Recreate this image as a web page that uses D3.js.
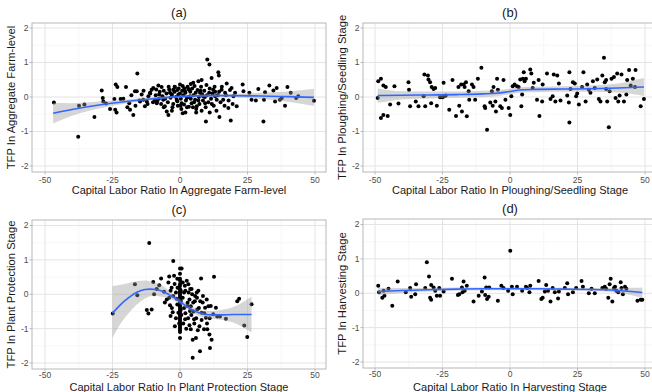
<!DOCTYPE html>
<html>
<head>
<meta charset="utf-8">
<script src="https://cdn.jsdelivr.net/npm/d3@7"></script>
<style>
  body { margin: 0; background: #fff; }
  svg { font-family: "Liberation Sans", Arial, sans-serif; }
</style>
</head>
<body>
<svg width="652" height="392"></svg>
<script>
// tick values shared by all four panels
const xTicks = [-50, -25, 0, 25, 50];
const xMinor = [-37.5, -12.5, 12.5, 37.5];
const yTicks = [-2, -1, 0, 1, 2];
const yMinor = [-1.5, -0.5, 0.5, 1.5];

// (a) aggregate farm-level points [ratio, tfp]
const ptsA = [
  [-46.7,-0.16],[-37.7,-1.15],[-37.4,-0.25],[-35.4,-0.22],[-31.7,-0.58],[-29,0.19],[-28.6,-0.03],[-28.4,-0.13],
  [-27.4,-0.19],[-24.3,-0.06],[-23.8,0.36],[-23.2,0.29],[-24,-0.37],[-23.5,-0.45],[-25.9,-0.35],[-22,-0.06],
  [-20,0.29],[-18.8,-0.18],[-18.5,-0.37],[-17.3,-0.52],[-16.7,0.17],[-16,0.17],[-15.8,0.68],[-14.8,-0.13],
  [-14.2,0.07],[-13.6,-0.08],[-13,-0.27],[-12.3,-0.13],[-11.7,0.02],[-11.1,0.12],[-10.5,0.21],[-9.9,0.26],
  [-9.3,-0.08],[-8.6,-0.18],[-8,0.33],[-7.7,0.07],[-6.8,0.29],[-6.2,-0.08],[-5.6,-0.27],[-4.9,-0.42],
  [-4.3,-0.52],[-3.7,0.12],[-3.1,0.02],[-2.5,0.21],[-1.9,0.29],[-1.2,-0.08],[-0.6,0.07],[0,0.36],
  [0.6,-0.18],[1,-0.47],[1.9,0.17],[2.5,-0.03],[3.1,0.23],[3.7,0.02],[4.3,-0.18],[4.9,0.41],
  [5.6,-0.08],[6.2,-0.27],[6.8,0.46],[7.4,0.12],[8,0.49],[8.6,0.02],[9.3,-0.18],[9.6,-0.71],
  [10.1,1.09],[10.9,0.94],[11.7,0.55],[12.3,0.21],[13,0.02],[13.6,-0.08],[14.2,0.72],[14.4,0.62],
  [14.6,-0.58],[15.4,0.21],[16,-0.08],[16.7,0.12],[17.3,0.39],[17.9,-0.32],[18.8,-0.68],[19.1,0.26],
  [19.8,0.02],[20.4,0.12],[21,-0.27],[23.2,0.36],[23.5,0.17],[25.7,0.12],[26.5,-0.08],[28.1,-0.1],
  [29,0.23],[30.9,-0.71],[31.1,-0.08],[31.5,0.14],[33.1,0.33],[34.6,0.19],[35.2,-0.13],[35.8,0.26],
  [37,-0.08],[37.7,-0.03],[38.9,-0.25],[39.8,0.29],[41,0.12],[43,-0.03],[43.8,0.02],[49.6,-0.11],
  [-9,0.05],[-8.5,-0.12],[-7.5,0.15],[-7,-0.2],[-6.5,0.02],[-6,0.18],[-5.5,-0.05],[-5,0.1],
  [-4.5,-0.15],[-4,0.22],[-3.5,-0.02],[-3,0.08],[-2.5,-0.2],[-2,0.15],[-1.5,0],[-1,-0.12],
  [-0.5,0.25],[0,0.1],[0.3,-0.05],[0.8,0.18],[1.2,0.05],[1.5,-0.22],[2,0.12],[2.2,-0.1],
  [2.8,0.3],[3,0],[3.3,-0.28],[3.8,0.15],[4,-0.05],[4.5,0.25],[5,0.05],[5.2,-0.15],
  [5.8,0.12],[6,-0.35],[6.5,0.2],[7,0],[7.2,-0.2],[7.8,0.3],[8.2,0.08],[8.5,-0.1],
  [9,0.18],[9.5,-0.3],[10,0.05],[10.5,-0.15],[11,0.25],[11.5,-0.05],[12,0.1],[12.5,-0.25],
  [13,0.15],[13.5,-0.4],[14,0.05],[15,-0.15],[15.5,0.3],[16.5,-0.25],[17,0.05],[18,-0.1],
  [18.5,0.2],[19.5,-0.2],[-12,-0.2],[-11,0.1],[-10,-0.15],[-13.5,0.18],[-15,-0.1],[-16.5,-0.25],
  [-18,0.05],[-19.5,-0.3],[-21,-0.05],[-2,0.3],[1,0.32],[4,0.38],[6,-0.45],[8,-0.4],
  [11,-0.45],[0.5,-0.35],[-1,0.2],[3.5,0.2],[9.8,0.35],[12.8,0.3],[-6,-0.3],[-3,-0.4],[2,-0.45],
  [-0.8,-0.25],[1.6,0.25],[2.6,-0.3],[4.8,-0.3],[6.8,-0.1],[7.6,0.18],[9.2,0.0],[10.8,0.12],
  [-2.8,-0.3],[-4.2,0.3],[-7.8,-0.05],[-8.8,0.22],[0.2,-0.25],[5.4,0.32],[11.8,-0.2],[14.5,0.15]
];
const fitA_x  = [-47, -40, -30, -20, -10, 0, 10, 20, 30, 40, 49.6];
const fitA_y  = [-0.47, -0.36, -0.23, -0.13, -0.05, 0.01, 0.04, 0.04, 0.03, 0.01, -0.01];
const fitA_lo = [-0.77, -0.54, -0.33, -0.19, -0.09, -0.02, 0.0, -0.01, -0.06, -0.14, -0.26];
const fitA_hi = [-0.17, -0.18, -0.13, -0.07, -0.01, 0.04, 0.08, 0.09, 0.12, 0.16, 0.24];

// (b) ploughing / seedling stage
const ptsB = [
  [-49,-0.03],[-48.8,0.46],[-47.8,0.53],[-47.8,-0.61],[-46.9,-0.52],[-46.9,0.33],[-46,0.29],[-45.3,-0.55],
  [-44.4,-0.22],[-42.8,0.31],[-41.3,-0.19],[-37.6,0.43],[-37.4,0.21],[-37,-0.27],[-34.9,-0.13],[-33.9,-0.27],
  [-32,0.02],[-31.7,0.65],[-31.4,-0.27],[-30.4,0.62],[-30.2,0.51],[-29.6,0.43],[-29,0.29],[-28.3,0.23],
  [-27.7,0.26],[-29.2,-0.18],[-27.1,-0.25],[-25.9,-0.01],[-25,-0.01],[-24.6,0.41],[-24.3,0.02],[-23.8,0.04],
  [-22.5,-0.37],[-21.3,0.49],[-20,-0.55],[-19.1,0.29],[-18.8,-0.25],[-18.1,0.36],[-17.8,-0.42],[-17.2,0.36],
  [-16.8,0.29],[-16.3,0.43],[-16,-0.56],[-15.3,0.17],[-15.1,-0.08],[-14.1,0.36],[-13.5,0.29],[-12.9,-0.08],
  [-11.9,0.53],[-10.6,0.85],[-9.4,-0.27],[-9.2,-0.32],[-8.5,-0.95],[-7.3,-0.16],[-6.7,0.17],[-6.4,-0.25],
  [-6.1,0.29],[-5.4,-0.13],[-5.2,-0.42],[-4.8,0.53],[-4.5,0.21],[-3.6,-0.27],[-3,-0.32],[-2.4,0.49],
  [-1.7,-0.08],[-0.5,-0.32],[0.1,-0.52],[0.5,0.02],[1,0.31],[1.7,0.36],[2.6,0.31],[3.2,0.29],
  [3.8,0.51],[4.2,-0.27],[4.5,0.07],[4.8,0.53],[5.1,0.72],[5.4,0.46],[5.9,0.53],[7.5,0.8],
  [7.9,0.68],[8.4,0.26],[8.8,0.41],[10,-0.08],[10.6,0.49],[10.9,-0.55],[11.9,-0.13],[12.1,0.36],
  [13.7,0.68],[15,-0.06],[15.8,0.02],[16.2,0.65],[16.8,-0.13],[17.5,0.62],[18.1,0.39],[18.7,-0.1],
  [21.2,0.04],[21.8,-0.16],[22,0.72],[22,-0.74],[22.4,0.23],[23.3,0.43],[24,0.39],[24.5,0.02],
  [24.9,0.1],[25.5,-0.22],[26.7,0.29],[27.2,0.72],[28,-0.13],[28.6,0.36],[29.2,0.21],[29.8,0.12],
  [30.7,0.46],[31.4,0.26],[32.3,0.51],[32.9,-0.06],[33.5,-0.13],[34.2,0.62],[34.8,1.14],[35.1,0.43],
  [35.6,0.49],[36,-0.13],[35.6,0.23],[36.6,-0.88],[36.9,0.17],[37.6,0.53],[38.5,0.58],[39.1,-0.03],
  [39.7,0.68],[40.1,-0.13],[40.6,0.04],[41.3,0.65],[42.2,-0.13],[43.1,0.07],[43.4,0.49],[44.1,0.78],
  [44.7,0.33],[45.5,0.53],[46.3,0.29],[46.5,0.78],[48.4,-0.27],[49.6,-0.06]
];
const fitB_x  = [-49, -40, -30, -20, -10, -5, 0, 5, 10, 20, 30, 40, 49.6];
const fitB_y  = [0.04, 0.05, 0.06, 0.07, 0.09, 0.11, 0.16, 0.21, 0.22, 0.23, 0.24, 0.26, 0.29];
const fitB_lo = [-0.17, -0.07, -0.04, -0.02, 0.0, 0.02, 0.08, 0.13, 0.14, 0.15, 0.15, 0.13, 0.03];
const fitB_hi = [0.25, 0.17, 0.16, 0.16, 0.18, 0.2, 0.24, 0.29, 0.3, 0.31, 0.33, 0.39, 0.55];

// (c) plant protection stage
const ptsC = [
  [-24.9,-0.56],[-16.7,0.29],[-15.8,-0.03],[-12.3,-0.46],[-11.7,-0.56],[-11.4,1.49],[-10.5,-0.44],[-9.9,0.36],
  [-9.6,0],[-8.6,0.15],[-7.7,0.26],[-7,0.46],[-5.9,0.07],[-5.6,-0.24],[-4.9,-0.15],[-4.3,0.34],
  [-4,0.52],[-3.7,-0.32],[-3.5,-0.63],[-3.1,0.19],[-2.7,-0.52],[-2.5,0.97],[-2.2,0.54],[-1.9,-0.93],
  [-1.5,0.05],[-1.2,-0.13],[-0.9,0.19],[-0.6,-0.54],
  [0,0.75],[0,0.6],[0,0.45],[0,0.4],[0,0.3],[0,0.25],[0,0.15],[0,0.1],[0,0.05],[0,0],[0,-0.05],
  [0,-0.1],[0,-0.15],[0,-0.2],[0,-0.25],[0,-0.3],[0,-0.35],[0,-0.4],[0,-0.45],[0,-0.5],[0,-0.55],
  [0,-0.6],[0,-0.65],[0,-0.7],[0,-0.75],[0,-0.8],[0,-0.85],[0,-0.9],[0,-0.95],[0,-1],[0,-1.05],
  [0,-1.1],[0,-1.27],[0.3,-0.2],[0.3,-0.45],[0.3,0.1],
  [0.6,0.75],[1,0.34],[1.5,0.05],[1.9,-0.73],[2.5,0.39],[2.7,-0.34],[3.1,0.29],[3.5,-0.15],
  [3.7,-0.49],[4,-1.02],[4.3,0.15],[4.7,-1.32],[4.7,-1.85],[4.9,-0.24],[5.2,-0.73],[5.6,-0.05],
  [5.9,-1.27],[6.2,0.05],[6.4,-0.44],[6.8,0.1],[7.2,-0.93],[7.4,-1.66],[7.8,0.46],[8,-0.54],
  [8.4,-0.24],[8.9,-1.02],[9.3,-0.39],[9.6,-0.68],[9.9,-0.15],[10.1,-1.02],[10.9,-1.17],[11.1,-1.56],
  [11.4,-0.34],[11.7,-1.32],[12.3,-0.58],[12.6,0.51],[13.3,-0.39],[13.8,-0.65],[14.8,-0.65],[17,-0.71],
  [21.2,-0.2],[21.9,-0.13],[23.8,-0.91],[24.9,-1.24],[26.5,-0.29],
  [0.5,-0.6],[1,-0.1],[1.2,-0.85],[1.5,-0.4],[2,0.1],[2,-0.55],[2.3,-1],[2.8,-0.25],
  [3,-0.7],[3.2,0.05],[3.5,-0.9],[4,-0.35],[4.2,-0.6],[4.5,0],[5,-0.5],[5.3,-0.85],
  [5.5,-0.2],[6,-0.7],[6.3,-0.1],[6.6,-1.05],[7,-0.4],[7.5,-0.2],[8,-0.75],[8.5,-0.05],
  [9,-0.55],[10,-0.85],[10.5,-0.35],[11,-0.7],[-1,-0.3],[-1.5,-0.7],[-2,0.3],[-2.5,-0.05],
  [-3,-0.4],[-3.5,0.1],[-4,-0.1],[-1,0.45],[-0.5,0.2],[-0.3,-0.85],[1.8,0.25],[3.8,0.15]
];
const fitC_x  = [-25, -22, -19, -16, -13, -11, -9, -7, -5, -3, -1, 1, 3, 5, 7, 9, 12, 15, 20, 26.5];
const fitC_y  = [-0.55, -0.3, -0.1, 0.06, 0.14, 0.15, 0.14, 0.1, 0.03, -0.06, -0.16, -0.27, -0.38, -0.47, -0.54, -0.58, -0.6, -0.6, -0.59, -0.59];
const fitC_lo = [-1.27, -0.85, -0.55, -0.3, -0.12, -0.06, -0.04, -0.07, -0.1, -0.16, -0.24, -0.34, -0.46, -0.56, -0.63, -0.68, -0.71, -0.74, -0.83, -1.12];
const fitC_hi = [0.24, 0.28, 0.33, 0.38, 0.4, 0.37, 0.33, 0.27, 0.17, 0.04, -0.08, -0.2, -0.3, -0.38, -0.45, -0.48, -0.49, -0.46, -0.36, -0.07];

// (d) harvesting stage
const ptsD = [
  [-48.8,0.22],[-48.5,0.03],[-47.3,-0.13],[-46.5,-0.07],[-46.8,0.07],[-45,0.13],[-43.6,-0.36],[-41.6,0.34],
  [-38.6,0.03],[-37,0.15],[-36.6,-0.1],[-35.1,-0.03],[-34.8,0.26],[-31.4,0.15],[-30.8,0.9],[-30,0.49],
  [-29.6,-0.13],[-29.2,-0.19],[-29.2,0.24],[-28.3,0.17],[-27.7,0.07],[-27.1,-0.07],[-26.2,0.15],[-25.9,-0.07],
  [-24.6,0.05],[-21.5,0.42],[-19.3,-0.05],[-18.8,-0.03],[-17.8,0.17],[-17.6,0.03],[-17.2,0.34],[-16.8,0.07],
  [-16,0.22],[-13.5,-0.24],[-11.6,-0.07],[-10.4,0.05],[-9.4,0.46],[-9.2,-0.05],[-8.8,0.17],[-8.5,-0.17],
  [-7.9,-0.1],[-7.7,0.17],[-4.5,-0.22],[-3.2,0.22],[-2.4,0.15],[-0.7,0.07],[0.1,1.24],[0.7,0.19],
  [1,-0.03],[2.6,0.19],[4.5,0.07],[5.9,0.19],[6.3,0.15],[7.2,0.03],[7.5,0.22],[10.6,0.36],
  [11.6,-0.17],[12.1,-0.13],[12.9,0.05],[13.4,0.24],[14.1,0.07],[15,-0.24],[15.8,0.15],[16.6,0.03],
  [17.8,-0.15],[18.1,0.05],[20.3,0.15],[21.2,0.29],[21.5,-0.03],[23.3,0.03],[24.5,0.15],[26.5,0.36],
  [27,0.19],[29.2,0],[30.2,0.13],[31.4,0],[34.2,0.15],[35.1,0.19],[35.6,0.13],[36.4,-0.13],
  [36.9,0.26],[37.3,0.42],[37.9,-0.24],[38.5,0.15],[38.9,0.19],[39.4,0.07],[40.1,0.03],[41,0.32],
  [41.3,0.15],[41.8,-0.03],[42.6,0.19],[43.1,0.13],[47.2,-0.22],[48.4,-0.19],[49,-0.19]
];
const fitD_x  = [-48.8, -40, -30, -20, -10, 0, 10, 20, 30, 35, 40, 45, 49];
const fitD_y  = [0.05, 0.08, 0.1, 0.12, 0.13, 0.13, 0.13, 0.12, 0.11, 0.1, 0.08, 0.05, 0.02];
const fitD_lo = [-0.06, 0.01, 0.05, 0.07, 0.09, 0.09, 0.09, 0.08, 0.07, 0.05, 0.01, -0.06, -0.14];
const fitD_hi = [0.16, 0.15, 0.15, 0.17, 0.17, 0.17, 0.17, 0.16, 0.15, 0.15, 0.15, 0.16, 0.17];

const titles = ['(a)', '(b)', '(c)', '(d)'];
const xLabels = ['Capital Labor Ratio In Aggregate Farm-level', 'Capital Labor Ratio In Ploughing/Seedling Stage',
                 'Capital Labor Ratio In Plant Protection Stage', 'Capital Labor Ratio In Harvesting Stage'];
const yLabels = ['TFP In Aggregate Farm-level', 'TFP In Ploughing/Seedling Stage',
                 'TFP In Plant Protection Stage', 'TFP In Harvesting Stage'];

// layout: plot box [left, top, right, bottom], where -50/50 and -2/2 land,
// x tick label baseline and x title baseline
const panels = [
  {pts: ptsA, fx: fitA_x, fy: fitA_y, lo: fitA_lo, hi: fitA_hi, box: [32, 23, 326, 172], xr: [45, 315], yr: [166, 28], tl: 182.5, xt: 194},
  {pts: ptsB, fx: fitB_x, fy: fitB_y, lo: fitB_lo, hi: fitB_hi, box: [363, 23, 657, 172], xr: [375, 645], yr: [166, 28], tl: 182.5, xt: 194},
  {pts: ptsC, fx: fitC_x, fy: fitC_y, lo: fitC_lo, hi: fitC_hi, box: [32, 220, 326, 369], xr: [45, 315], yr: [363, 225.5], tl: 377.5, xt: 390.5},
  {pts: ptsD, fx: fitD_x, fy: fitD_y, lo: fitD_lo, hi: fitD_hi, box: [363, 219, 657, 368], xr: [375, 645], yr: [362, 224.5], tl: 377, xt: 390.5}
];

const svg = d3.select('svg');
svg.append('rect').attr('width', 652).attr('height', 392).attr('fill', '#fff');

panels.forEach((p, i) => {
  const [l, t, r, b] = p.box;
  const x = d3.scaleLinear().domain([-50, 50]).range(p.xr);
  const y = d3.scaleLinear().domain([-2, 2]).range(p.yr);
  const g = svg.append('g');

  g.append('clipPath').attr('id', 'clip' + i)
    .append('rect').attr('x', l).attr('y', t).attr('width', r - l).attr('height', b - t);

  // grid
  g.selectAll('.xminor').data(xMinor).enter().append('line')
    .attr('x1', d => x(d)).attr('x2', d => x(d)).attr('y1', t).attr('y2', b)
    .attr('stroke', '#f2f2f2').attr('stroke-width', 0.6);
  g.selectAll('.yminor').data(yMinor).enter().append('line')
    .attr('y1', d => y(d)).attr('y2', d => y(d)).attr('x1', l).attr('x2', r)
    .attr('stroke', '#f2f2f2').attr('stroke-width', 0.6);
  g.selectAll('.xmajor').data(xTicks).enter().append('line')
    .attr('x1', d => x(d)).attr('x2', d => x(d)).attr('y1', t).attr('y2', b)
    .attr('stroke', '#e4e4e4').attr('stroke-width', 1);
  g.selectAll('.ymajor').data(yTicks).enter().append('line')
    .attr('y1', d => y(d)).attr('y2', d => y(d)).attr('x1', l).attr('x2', r)
    .attr('stroke', '#e4e4e4').attr('stroke-width', 1);

  const inner = g.append('g').attr('clip-path', `url(#clip${i})`);

  inner.selectAll('circle').data(p.pts).enter().append('circle')
    .attr('cx', d => x(d[0])).attr('cy', d => y(d[1])).attr('r', 2).attr('fill', '#000');

  const band = p.fx.map((v, k) => ({x: v, lo: p.lo[k], hi: p.hi[k], y: p.fy[k]}));
  inner.append('path').datum(band)
    .attr('d', d3.area().x(d => x(d.x)).y0(d => y(d.lo)).y1(d => y(d.hi)).curve(d3.curveMonotoneX))
    .attr('fill', '#999').attr('fill-opacity', 0.4);
  inner.append('path').datum(band)
    .attr('d', d3.line().x(d => x(d.x)).y(d => y(d.y)).curve(d3.curveMonotoneX))
    .attr('fill', 'none').attr('stroke', '#3366FF').attr('stroke-width', 1.6);

  // border
  g.append('rect').attr('x', l).attr('y', t).attr('width', r - l).attr('height', b - t)
    .attr('fill', 'none').attr('stroke', '#b8b8b8').attr('stroke-width', 1);

  // ticks + labels
  g.selectAll('.xt').data(xTicks).enter().append('line')
    .attr('x1', d => x(d)).attr('x2', d => x(d)).attr('y1', b).attr('y2', b + 2.5)
    .attr('stroke', '#b8b8b8');
  g.selectAll('.xl').data(xTicks).enter().append('text')
    .attr('x', d => x(d)).attr('y', p.tl).attr('text-anchor', 'middle')
    .attr('font-size', 8.5).attr('fill', '#4d4d4d').text(d => d);
  g.selectAll('.yt').data(yTicks).enter().append('line')
    .attr('y1', d => y(d)).attr('y2', d => y(d)).attr('x1', l - 2.5).attr('x2', l)
    .attr('stroke', '#b8b8b8');
  g.selectAll('.yl').data(yTicks).enter().append('text')
    .attr('x', l - 3.5).attr('y', d => y(d)).attr('dy', '0.35em').attr('text-anchor', 'end')
    .attr('font-size', 8.5).attr('fill', '#4d4d4d').text(d => d);

  const cx = (l + r) / 2;
  g.append('text').attr('x', cx).attr('y', t - 6).attr('text-anchor', 'middle')
    .attr('font-size', 13).attr('fill', '#1a1a1a').text(titles[i]);
  g.append('text').attr('x', cx).attr('y', p.xt).attr('text-anchor', 'middle')
    .attr('font-size', 11).attr('fill', '#1a1a1a').text(xLabels[i]);
  g.append('text').attr('transform', `translate(${l - 17},${(t + b) / 2}) rotate(-90)`)
    .attr('text-anchor', 'middle').attr('font-size', 11.2).attr('fill', '#1a1a1a').text(yLabels[i]);
});
</script>
</body>
</html>
